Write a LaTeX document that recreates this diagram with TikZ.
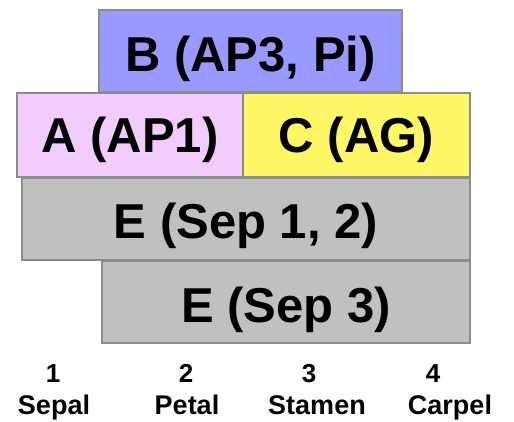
\documentclass[tikz,border=0pt]{standalone}
\usepackage{fontspec}
\setmainfont{Liberation Sans}
\definecolor{bblue}{HTML}{9999FF}
\definecolor{alilac}{HTML}{F2CCFF}
\definecolor{cyellow}{HTML}{FFF766}
\definecolor{egray}{HTML}{C0C0C0}
\definecolor{edge}{HTML}{8C8C8C}
\tikzset{
  genebox/.style={draw=edge, line width=1.4pt},
  genetext/.style={anchor=base, inner sep=0pt, font=\bfseries\fontsize{49}{49}\selectfont},
  whorlnum/.style={anchor=base, inner sep=0pt, font=\bfseries\fontsize{26}{26}\selectfont},
  whorlname/.style={anchor=base, inner sep=0pt, font=\bfseries\fontsize{27}{27}\selectfont},
}
\begin{document}
\begin{tikzpicture}[x=1pt,y=-1pt]
\useasboundingbox (0,0) rectangle (514,421);
% class B across whorls 2 and 3
\path[genebox, fill=bblue] (99,10) rectangle (402,92);
\node[genetext] (B) at (250.5,71.5) {B (AP3, Pi)};
% class A and class C side by side
\path[genebox, fill=alilac] (17,93) rectangle (243,177);
\path[genebox, fill=cyellow] (243,93) rectangle (470,177);
\node[genetext] (A) at (130,152) {A (AP1)};
\node[genetext] (C) at (356.5,152) {C (AG)};
% class E
\path[genebox, fill=egray] (22,178) rectangle (470,260);
\node[genetext] (E1) at (246,238) {E (Sep 1, 2)};
\path[genebox, fill=egray] (102,261) rectangle (470,343);
\node[genetext] (E2) at (286,322) {E (Sep 3)};
% whorl numbering
\node[whorlnum] (n1) at (53,382) {1};
\node[whorlnum] (n2) at (186,382) {2};
\node[whorlnum] (n3) at (309,382) {3};
\node[whorlnum] (n4) at (433,382) {4};
\node[whorlname] (w1) at (54,414) {Sepal};
\node[whorlname] (w2) at (187,414) {Petal};
\node[whorlname] (w3) at (317,414) {Stamen};
\node[whorlname] (w4) at (450,414) {Carpel};
\end{tikzpicture}
\end{document}
